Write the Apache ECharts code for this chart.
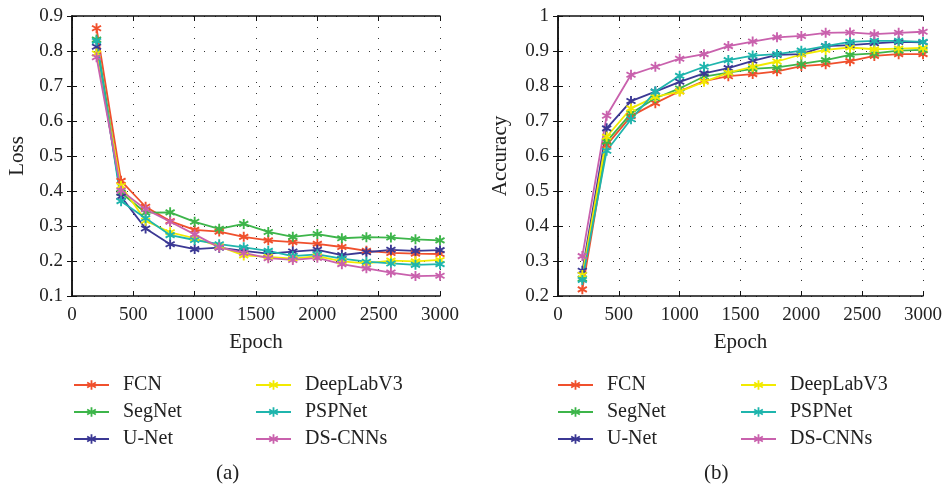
<!DOCTYPE html>
<html>
<head>
<meta charset="utf-8">
<script src="https://cdn.jsdelivr.net/npm/echarts@6/dist/echarts.min.js"></script>
<style>
  html, body { margin: 0; padding: 0; background: #fff; }
  #main { width: 945px; height: 489px; }
</style>
</head>
<body>
<div id="main"></div>
<script>
var epochs = [200, 400, 600, 800, 1000, 1200, 1400, 1600, 1800, 2000, 2200, 2400, 2600, 2800, 3000];
var names = ['FCN', 'SegNet', 'U-Net', 'DeepLabV3', 'PSPNet', 'DS-CNNs'];
var colors = ['#f0502d', '#3db54a', '#3b3894', '#f2ea00', '#1fb5ad', '#c961ad'];

// loss values (a)
var lossFCN      = [0.865, 0.429, 0.355, 0.314, 0.289, 0.284, 0.269, 0.259, 0.254, 0.249, 0.240, 0.229, 0.223, 0.221, 0.220];
var lossSegNet   = [0.833, 0.395, 0.338, 0.339, 0.312, 0.292, 0.306, 0.283, 0.269, 0.277, 0.265, 0.268, 0.267, 0.262, 0.259];
var lossUNet     = [0.812, 0.384, 0.293, 0.248, 0.234, 0.238, 0.229, 0.221, 0.227, 0.232, 0.217, 0.225, 0.232, 0.229, 0.231];
var lossDeepLab  = [0.793, 0.415, 0.315, 0.282, 0.265, 0.242, 0.216, 0.212, 0.207, 0.214, 0.199, 0.193, 0.201, 0.199, 0.203];
var lossPSPNet   = [0.829, 0.371, 0.322, 0.274, 0.260, 0.248, 0.239, 0.229, 0.214, 0.219, 0.207, 0.198, 0.193, 0.189, 0.191];
var lossDSCNN    = [0.782, 0.401, 0.348, 0.312, 0.276, 0.239, 0.223, 0.208, 0.203, 0.209, 0.191, 0.179, 0.167, 0.157, 0.158];

// accuracy values (b)
var accFCN       = [0.219, 0.631, 0.714, 0.751, 0.785, 0.814, 0.828, 0.834, 0.842, 0.857, 0.862, 0.871, 0.886, 0.891, 0.891];
var accSegNet    = [0.250, 0.641, 0.722, 0.765, 0.793, 0.827, 0.838, 0.849, 0.853, 0.863, 0.874, 0.889, 0.893, 0.901, 0.903];
var accUNet      = [0.272, 0.679, 0.757, 0.784, 0.812, 0.836, 0.851, 0.872, 0.889, 0.891, 0.914, 0.917, 0.922, 0.926, 0.925];
var accDeepLab   = [0.260, 0.655, 0.736, 0.769, 0.784, 0.812, 0.838, 0.855, 0.870, 0.890, 0.903, 0.910, 0.905, 0.907, 0.909];
var accPSPNet    = [0.246, 0.615, 0.705, 0.784, 0.829, 0.855, 0.874, 0.887, 0.891, 0.901, 0.914, 0.926, 0.929, 0.929, 0.926];
var accDSCNN     = [0.314, 0.715, 0.832, 0.855, 0.878, 0.891, 0.914, 0.927, 0.939, 0.943, 0.952, 0.953, 0.948, 0.952, 0.955];

var lossData = [lossFCN, lossSegNet, lossUNet, lossDeepLab, lossPSPNet, lossDSCNN];
var accData = [accFCN, accSegNet, accUNet, accDeepLab, accPSPNet, accDSCNN];

// asterisk marker
var star = 'path://M-0.9,-5L0.9,-5L0.9,5L-0.9,5Z' +
  'M3.88,-3.279L4.78,-1.721L-3.88,3.279L-4.78,1.721Z' +
  'M-4.78,-1.721L-3.88,-3.279L4.78,1.721L3.88,3.279Z';

var serif = 'Liberation Serif';
var nameTxt = { fontFamily: serif, fontSize: 21, color: '#222' };

function pairs(arr) {
  var out = [];
  for (var i = 0; i < epochs.length; i++) out.push([epochs[i], arr[i]]);
  return out;
}

function fmt(v) {
  return v == 1 ? '1' : v.toFixed(1);
}

var grids = [
  { left: 72, right: 505, top: 16, bottom: 193 },
  { left: 558, right: 21, top: 16, bottom: 193 }
];

var xAxes = [], yAxes = [];
for (var g = 0; g < 2; g++) {
  xAxes.push({
    type: 'value', gridIndex: g, min: 0, max: 3000, interval: 500,
    name: 'Epoch', nameLocation: 'middle', nameGap: 36, nameTextStyle: nameTxt,
    axisLine: { lineStyle: { color: '#111', width: 1.5 } },
    axisTick: { inside: true, length: 5, lineStyle: { color: '#111' } },
    axisLabel: { fontFamily: serif, fontSize: 19, color: '#222', margin: 10,
      formatter: function (v) { return String(v); } },
    splitLine: { show: true, lineStyle: { color: '#333', type: [1, 10], width: 1 } }
  });
  xAxes.push({
    type: 'value', gridIndex: g, min: 0, max: 3000, interval: 500, position: 'top',
    axisLine: { lineStyle: { color: '#111', width: 1.5 } },
    axisTick: { inside: true, length: 5, lineStyle: { color: '#111' } },
    axisLabel: { show: false }, splitLine: { show: false }
  });
}
yAxes.push({
  type: 'value', gridIndex: 0, min: 0.1, max: 0.9, interval: 0.1,
  name: 'Loss', nameLocation: 'middle', nameGap: 44, nameTextStyle: nameTxt,
  axisLine: { show: true, lineStyle: { color: '#111', width: 1.5 } },
  axisTick: { show: true, inside: true, length: 5, lineStyle: { color: '#111' } },
  axisLabel: { fontFamily: serif, fontSize: 19, color: '#222', margin: 9, formatter: fmt },
  splitLine: { show: true, lineStyle: { color: '#333', type: [1, 10], width: 1 } }
});
yAxes.push({
  type: 'value', gridIndex: 0, min: 0.1, max: 0.9, interval: 0.1, position: 'right',
  axisLine: { show: true, lineStyle: { color: '#111', width: 1.5 } },
  axisTick: { show: true, inside: true, length: 5, lineStyle: { color: '#111' } },
  axisLabel: { show: false }, splitLine: { show: false }
});
yAxes.push({
  type: 'value', gridIndex: 1, min: 0.2, max: 1, interval: 0.1,
  name: 'Accuracy', nameLocation: 'middle', nameGap: 47, nameTextStyle: nameTxt,
  axisLine: { show: true, lineStyle: { color: '#111', width: 1.5 } },
  axisTick: { show: true, inside: true, length: 5, lineStyle: { color: '#111' } },
  axisLabel: { fontFamily: serif, fontSize: 19, color: '#222', margin: 9, formatter: fmt },
  splitLine: { show: true, lineStyle: { color: '#333', type: [1, 10], width: 1 } }
});
yAxes.push({
  type: 'value', gridIndex: 1, min: 0.2, max: 1, interval: 0.1, position: 'right',
  axisLine: { show: true, lineStyle: { color: '#111', width: 1.5 } },
  axisTick: { show: true, inside: true, length: 5, lineStyle: { color: '#111' } },
  axisLabel: { show: false }, splitLine: { show: false }
});

var series = [];
for (var i = 0; i < names.length; i++) {
  series.push({
    name: names[i], type: 'line', xAxisIndex: 0, yAxisIndex: 0,
    data: pairs(lossData[i]), symbol: star, symbolSize: 10,
    lineStyle: { color: colors[i], width: 1.8 }, itemStyle: { color: colors[i] }
  });
}
for (var i = 0; i < names.length; i++) {
  series.push({
    name: names[i], type: 'line', xAxisIndex: 2, yAxisIndex: 2,
    data: pairs(accData[i]), symbol: star, symbolSize: 10,
    lineStyle: { color: colors[i], width: 1.8 }, itemStyle: { color: colors[i] }
  });
}

function legend(left, items) {
  return {
    left: left, top: 375, orient: 'vertical', data: items, padding: 0,
    itemWidth: 35, itemHeight: 12, itemGap: 7,
    selectedMode: false,
    textStyle: { fontFamily: serif, fontSize: 20, color: '#222', padding: [0, 0, 0, 9] }
  };
}

var myChart = echarts.init(document.getElementById('main'));
var option = {
  backgroundColor: '#fff',
  animation: false,
  title: [
    { text: '(a)', left: 216, top: 463, padding: 0, textStyle: { fontFamily: serif, fontSize: 21, fontWeight: 'normal', color: '#222' } },
    { text: '(b)', left: 704, top: 463, padding: 0, textStyle: { fontFamily: serif, fontSize: 21, fontWeight: 'normal', color: '#222' } }
  ],
  legend: [
    legend(73, ['FCN', 'SegNet', 'U-Net']),
    legend(255, ['DeepLabV3', 'PSPNet', 'DS-CNNs']),
    legend(557, ['FCN', 'SegNet', 'U-Net']),
    legend(740, ['DeepLabV3', 'PSPNet', 'DS-CNNs'])
  ],
  grid: grids,
  xAxis: xAxes,
  yAxis: yAxes,
  series: series
};
myChart.setOption(option);
</script>
</body>
</html>
